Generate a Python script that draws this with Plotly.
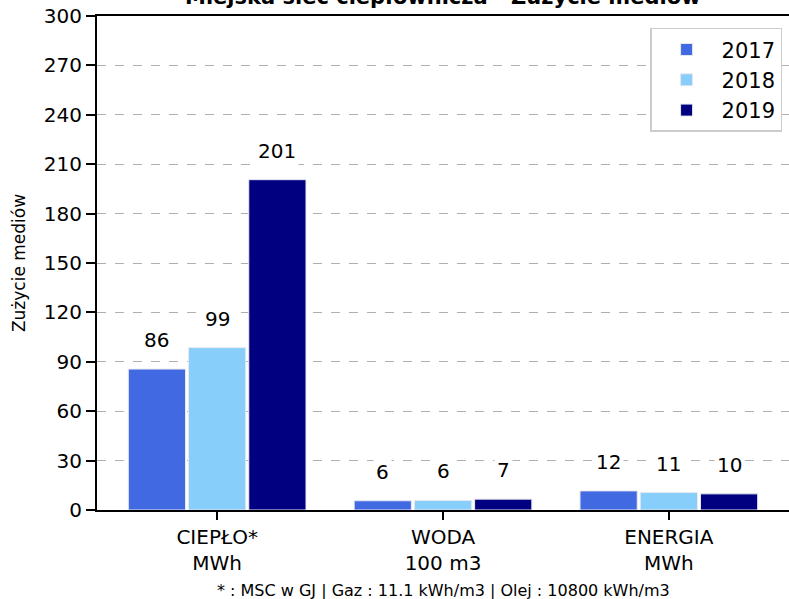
import plotly.graph_objects as go

categories = ["CIEPŁO*<br>MWh", "WODA<br>100 m3", "ENERGIA<br>MWh"]
years = ["2017", "2018", "2019"]
values_2017 = [85.6, 5.6, 11.6]
values_2018 = [98.6, 5.8, 10.6]
values_2019 = [200.6, 6.6, 9.8]
y_ticks = [0, 30, 60, 90, 120, 150, 180, 210, 240, 270, 300]
title_text = "Miejska sieć ciepłownicza - Zużycie mediów"
footnote = "* : MSC w GJ | Gaz : 11.1 kWh/m3 | Olej : 10800 kWh/m3"
y_title = "Zużycie mediów"

colors = ["#4169E1", "#87CEFA", "#000080"]
series = [values_2017, values_2018, values_2019]

FONT = "DejaVu Sans"
bargap = 0.2
bargroupgap = 0.05

fig = go.Figure()
for yr, vals, col in zip(years, series, colors):
    fig.add_trace(go.Bar(
        x=categories, y=vals, name=yr,
        marker=dict(color=col, line=dict(color="#e8e8f0", width=1)),
    ))

# value labels with white background
slot = (1 - bargap) / len(series)
annotations = []
for j, vals in enumerate(series):
    off = (j - (len(series) - 1) / 2) * slot
    for i, v in enumerate(vals):
        annotations.append(dict(
            x=i + off, y=v, xref="x", yref="y",
            text=f"{v:.0f}", showarrow=False,
            yanchor="middle", yshift=29,
            font=dict(family=FONT, size=20, color="black"),
            bgcolor="white", borderpad=2,
        ))

annotations.append(dict(
    x=0.5, y=1.011, xref="paper", yref="paper",
    text=f"<b>{title_text}</b>", showarrow=False,
    xanchor="center", yanchor="bottom",
    font=dict(family=FONT, size=21, color="black"),
))
annotations.append(dict(
    x=0.5, y=-0.162, xref="paper", yref="paper",
    text=footnote, showarrow=False,
    xanchor="center", yanchor="middle",
    font=dict(family=FONT, size=16, color="black"),
))

fig.update_layout(
    width=789, height=599,
    margin=dict(l=97, r=0, t=16, b=89),
    paper_bgcolor="white", plot_bgcolor="white",
    barmode="group", bargap=bargap, bargroupgap=bargroupgap,
    font=dict(family=FONT, size=20, color="black"),
    showlegend=True,
    legend=dict(
        x=0.99, y=0.976, xanchor="right", yanchor="top",
        bgcolor="white", bordercolor="#cccccc", borderwidth=1.5,
        font=dict(family=FONT, size=21, color="black"),
        itemwidth=60,
    ),
    annotations=annotations,
)
fig.update_xaxes(
    range=[-0.532, 2.532],
    showline=True, linecolor="black", linewidth=2, mirror=True,
    ticks="outside", ticklen=8, tickwidth=2, tickcolor="black",
    tickfont=dict(family=FONT, size=20, color="black"),
    showgrid=False,
)
fig.update_yaxes(
    range=[0, 300], tickvals=y_ticks,
    showline=True, linecolor="black", linewidth=2,
    ticks="outside", ticklen=9, tickwidth=1.5, tickcolor="black",
    tickfont=dict(family=FONT, size=20, color="black"),
    showgrid=True, gridcolor="#b0b0b0", gridwidth=1, griddash="dash",
    zeroline=False,
    title=dict(text=y_title, font=dict(family=FONT, size=17, color="black"), standoff=14),
)

fig.write_html("out.html", config={"displayModeBar": False},
               post_script="document.body.style.margin='0px';")
